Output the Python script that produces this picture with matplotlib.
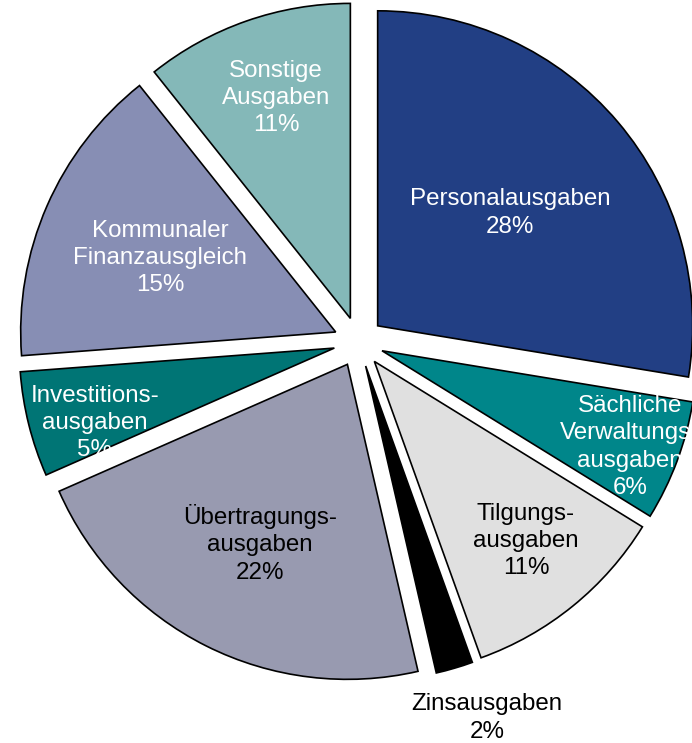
import numpy as np
import matplotlib
matplotlib.use("Agg")
import matplotlib.pyplot as plt

# Ausgaben shares in percent, clockwise from 12 o'clock
categories = ["Personalausgaben", "Sächliche Verwaltungsausgaben", "Tilgungsausgaben",
              "Zinsausgaben", "Übertragungsausgaben", "Investitionsausgaben",
              "Kommunaler Finanzausgleich", "Sonstige Ausgaben"]
shares = [27.6, 6.2, 10.7, 1.9, 22.0, 5.4, 15.5, 10.7]
pct_labels = [28, 6, 11, 2, 22, 5, 15, 11]
label_texts = ["Personalausgaben", "Sächliche\nVerwaltungs-\nausgaben", "Tilgungs-\nausgaben",
               "Zinsausgaben", "Übertragungs-\nausgaben", "Investitions-\nausgaben",
               "Kommunaler\nFinanzausgleich", "Sonstige\nAusgaben"]
colors = ["#223F84", "#00868A", "#E0E0E0", "#000000",
          "#989AB0", "#007575", "#878EB4", "#84B8B8"]
text_colors = ["white", "white", "black", "black", "black", "white", "white", "white"]

# label centres in pixel coordinates (x, y from top)
label_pos = [(510, 213), (630, 447), (526, 541), (487, 718),
             (260, 544), (95, 423), (160, 258), (276, 98)]

W, H = 692, 743
fig = plt.figure(figsize=(W / 100, H / 100), dpi=100)
ax = fig.add_axes([0, 0, 1, 1])

cx, cy, r = 358.6, H - 342, 315
ax.pie(shares, colors=colors, startangle=90, counterclock=False,
       explode=[25] * len(shares), radius=r, center=(cx, cy),
       wedgeprops=dict(edgecolor="black", linewidth=1.2))

for txt, val, (x, y), tc in zip(label_texts, pct_labels, label_pos, text_colors):
    ax.text(x, H - y, f"{txt}\n{val}%", ha="center", va="center", color=tc,
            fontsize=17.4, family="Liberation Sans", linespacing=1.3)

ax.set_xlim(0, W)
ax.set_ylim(0, H)
ax.set_aspect("equal")
ax.axis("off")
fig.savefig("out.png", dpi=100)
